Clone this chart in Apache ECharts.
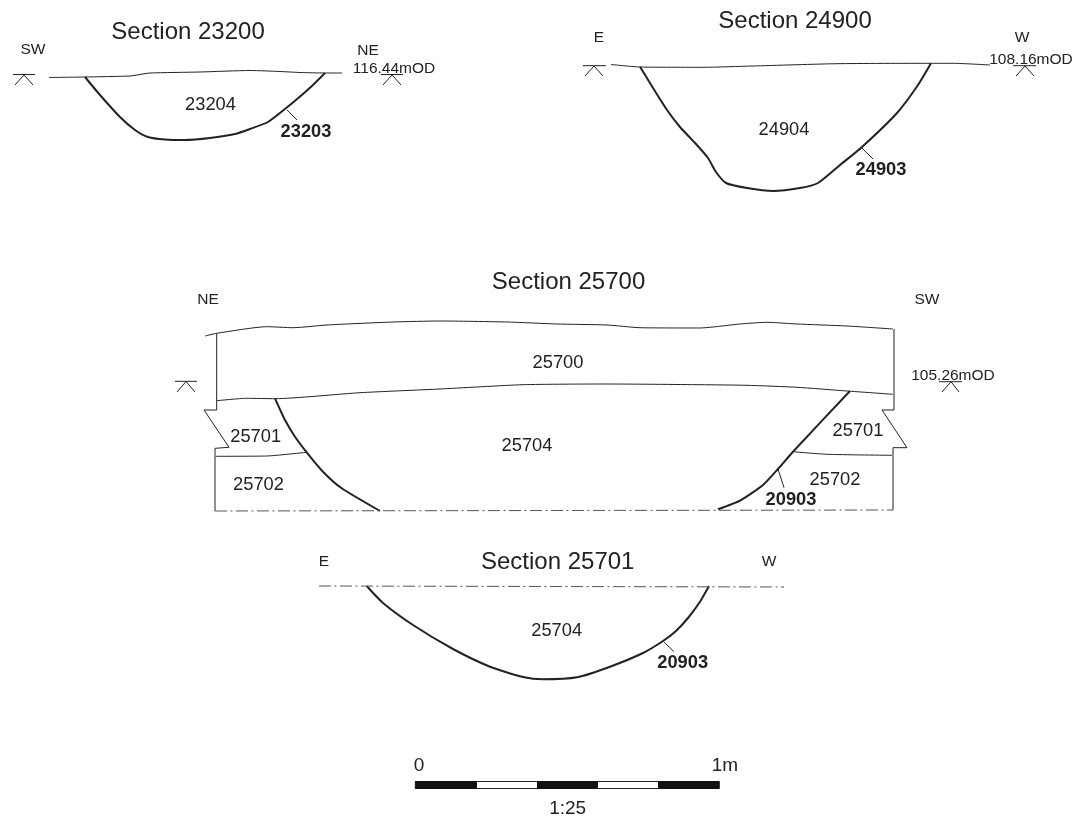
<!DOCTYPE html>
<html><head><meta charset="utf-8">
<style>html,body{margin:0;padding:0;background:#fff}#c{width:1089px;height:831px}</style>
<script src="https://cdn.jsdelivr.net/npm/echarts@6/dist/echarts.min.js"></script>
</head><body><div id="c"></div>
<script>
// Section 23200
const ground23200=[[49,77.5],[85,77],[130,76],[140,74.5],[150,73],[200,72],[250,70.5],[280,71.5],[300,72.5],[325,73],[342,73]];
const cut23203=[[85,77],[100,95],[120,117],[135,130],[148,137],[165,139.5],[185,140],[210,138],[235,134],[250,129],[268,122],[285,109],[303,94],[314,84],[325,73]];
const leader23203=[[287,110],[297,120]];
// Section 24900
const ground24900=[[611,64.5],[640,67],[703,67.3],[753,66],[837,63.7],[930,63.3],[953,63.3],[990,65]];
const cut24903=[[640,66.7],[653,88],[667,110],[680,127],[696,144],[708,158],[716,172],[726,183],[747,188],[773,191],[800,188],[818,183],[840,165],[862,147],[897,113],[918,85],[931,63.3]];
const leader24903=[[862,148],[873,159]];
// Section 25700
const top25700=[[205,336],[216.7,333.3],[266.7,326.7],[293,327.7],[327,325],[393,322],[440,321],[507,322],[557,324],[607,325],[640,327.7],[700,328],[713,327],[740,324],[767,322.3],[797,324],[847,326],[893,329]];
const base25700=[[216.7,400.7],[246.7,398.3],[275,398.7],[360,392.7],[440,389],[523,384.7],[607,384],[700,384.7],[747,385.3],[797,387.3],[847,391],[893,394.3]];
const edgeLeft=[[216.7,333.3],[216.7,410],[204,410],[229,447.3],[215,448.3],[215,511]];
const edgeRight=[[894,329],[894,410],[882,410],[907,447.7],[893,447.7],[893,510]];
const layerLeft=[[215.7,456.3],[266.7,456],[306.7,452.3]];
const layerRight=[[793,451.7],[827,454.3],[892,455.3]];
const cutLeft=[[275,398.3],[285,420],[295,436.7],[306.7,452.3],[323,471.7],[341.7,488.3],[380,511]];
const cutRight=[[850,391],[793,451.7],[778,469],[763,485],[740,500.7],[718,509.3]];
const leader20903a=[[778,469],[784,487.7]];
const limit25700=[[215,511],[893,510]];
// Section 25701
const limit25701=[[319,586],[784,587]];
const cut20903=[[366.7,586],[383,603],[413,625],[453,649],[490,666.7],[523,677],[543,679.3],[577,677.3],[610,666.7],[643,653],[663,641],[676,631],[688,618],[700,601.7],[709,586]];
const leader20903b=[[663,641],[674,651.7]];
// Datum markers: bar + caret
const datums=[[[13,74.5],[35,74.5]],[[15,85],[24,75],[33,85]],[[381,74.5],[403,74.5]],[[383,85],[392,75],[401,85]],
 [[583,65.7],[606,65.7]],[[585,76],[594,66],[603,76]],[[1013,65.7],[1036,65.7]],[[1016,76],[1025,66],[1034,76]],
 [[175,381.3],[197,381.3]],[[177,392],[186,381.5],[195,392]],[[939,381.7],[962,381.7]],[[942,392],[951,381.7],[959,392]]];
// Scale bar
const scaleBlack=[[[415.3,785],[477,785]],[[537,785],[598,785]],[[658,785],[719.3,785]]];
const scaleOutline=[[415.3,781.5],[719.3,781.5],[719.3,788.5],[415.3,788.5],[415.3,781.5]];
// Text
const titleLabels=[[188,32,'Section 23200'],[795,21,'Section 24900'],[568.5,282,'Section 25700'],[557.7,562,'Section 25701']];
const smallLabels=[[33,49.5,'SW'],[368,50.5,'NE'],[394,69,'116.44mOD'],[599,38,'E'],[1022,38,'W'],[1031,60,'108.16mOD'],[208,300,'NE'],[927,300,'SW'],[953,376,'105.26mOD'],[324,562,'E'],[769,562,'W']];
const contextLabels=[[210.5,105,'23204'],[784,130,'24904'],[558,363,'25700'],[527,446,'25704'],[255.7,436.5,'25701'],[258.5,485,'25702'],[858,431,'25701'],[835,480,'25702'],[556.7,631,'25704']];
const cutLabels=[[306,132,'23203'],[881,170,'24903'],[791,500,'20903'],[682.7,663,'20903']];
const scaleLabels=[[419,766,'0'],[725,766,'1m'],[567.7,809,'1:25']];

const INK='#222';
const FONT='"Liberation Sans", Arial, sans-serif';
function line(data,width,smooth,extra){
  return {type:'line',data,symbol:'none',silent:true,smooth:smooth?0.2:false,clip:false,
    lineStyle:Object.assign({color:INK,width,cap:'butt',join:'round'},extra||{})};
}
function text(data,size,weight){
  return {type:'scatter',data,symbolSize:0,silent:true,clip:false,itemStyle:{opacity:1},
    label:{show:true,position:'inside',formatter:p=>p.data[2],color:INK,opacity:1,fontFamily:FONT,fontSize:size,fontWeight:weight||'normal',align:'center',verticalAlign:'middle'}};
}
const series=[];
[ground23200,ground24900,top25700,base25700,layerLeft,layerRight].forEach(d=>series.push(line(d,1,true)));
[cut23203,cut24903,cutLeft,cutRight,cut20903].forEach(d=>series.push(line(d,2,true)));
[edgeLeft,edgeRight,leader23203,leader24903,leader20903a,leader20903b].forEach(d=>series.push(line(d,1,false)));
datums.forEach(d=>series.push(line(d,1,false)));
[limit25700,limit25701].forEach(d=>series.push(line(d,1,false,{type:[12,3.5,2,3.5],color:'#555'})));
series.push(line(scaleOutline,1,false));
scaleBlack.forEach(d=>series.push(line(d,8,false,{color:'#111'})));
series.push(text(titleLabels,24),text(smallLabels,15.5),text(contextLabels,18.3),text(cutLabels,18.3,'bold'),text(scaleLabels,19));

const chart=echarts.init(document.getElementById('c'),null,{renderer:'canvas',width:1089,height:831});
chart.setOption({
  animation:false,backgroundColor:'#fff',
  grid:{left:0,right:0,top:0,bottom:0},
  xAxis:{type:'value',min:0,max:1089,show:false},
  yAxis:{type:'value',min:0,max:831,inverse:true,show:false},
  series
});
</script></body></html>
